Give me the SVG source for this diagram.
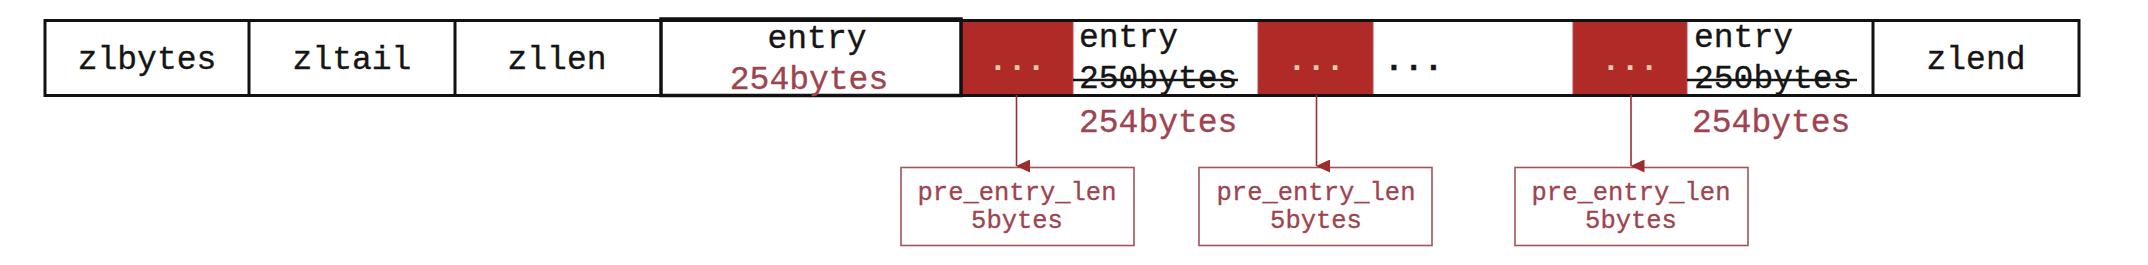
<svg xmlns="http://www.w3.org/2000/svg" width="2148" height="265" viewBox="0 0 2148 265">
<style>
.t{font-family:"Liberation Mono","DejaVu Sans Mono",monospace;font-size:33px;fill:#151515;stroke:#151515;stroke-width:0.35}
.r{fill:#9E4450;stroke:#9E4450}
.c{text-anchor:middle}
.dots{font-family:"Liberation Mono","DejaVu Sans Mono",monospace;font-size:32px;font-weight:bold;fill:#F6CBB0;text-anchor:middle}
.bd{font-weight:bold}
.red{fill:#B02A28;stroke:#BC4A48;stroke-width:1}
.pre rect{fill:#fff;stroke:#A3545B;stroke-width:1.6}
.pre text{font-family:"Liberation Mono","DejaVu Sans Mono",monospace;font-size:25.5px;fill:#9E4450;stroke:#9E4450;stroke-width:0.3;text-anchor:middle}
.strike{stroke:#151515;stroke-width:2.5}
.conn line{stroke:#9B2D30;stroke-width:1.6}
</style>
<defs>
<marker id="ah" markerWidth="13" markerHeight="14" refX="6.5" refY="13.5" orient="auto" markerUnits="userSpaceOnUse" viewBox="0 0 13 14">
<path d="M0,0 L13,0 L6.5,14 Z" fill="#9B2D30"/>
</marker>
</defs>
<rect x="0" y="0" width="2148" height="265" fill="#fff"/>

<g id="red1"><rect class="red" x="961" y="21.5" width="112" height="73"/><text class="dots" x="1017" y="70">...</text></g>
<g id="red2"><rect class="red" x="1258" y="21.5" width="115" height="73"/><text class="dots" x="1316" y="70">...</text></g>
<g id="red3"><rect class="red" x="1573" y="21.5" width="114" height="73"/><text class="dots" x="1630" y="70">...</text></g>

<g id="frame"><rect x="45" y="20.5" width="2034" height="75" fill="none" stroke="#111" stroke-width="3"/></g>
<g id="zlbytes"><text class="t c" x="147" y="69">zlbytes</text></g>
<g id="zltail"><line x1="249" y1="20" x2="249" y2="96" stroke="#111" stroke-width="3"/><text class="t c" x="352" y="69">zltail</text></g>
<g id="zllen"><line x1="455" y1="20" x2="455" y2="96" stroke="#111" stroke-width="3"/><text class="t c" x="557" y="69">zllen</text></g>
<g id="entry1"><rect x="661" y="19" width="300" height="76.5" fill="none" stroke="#111" stroke-width="3.5"/><text class="t c" x="817" y="48">entry</text><text class="t r c" x="809" y="89">254bytes</text></g>
<g id="entry2"><text class="t" x="1079" y="47">entry</text><text class="t" x="1079" y="88">250bytes</text><line class="strike" x1="1073" y1="80" x2="1238" y2="80"/><text class="t r" x="1079" y="132">254bytes</text></g>
<g id="more"><text class="t bd" x="1384" y="70">...</text></g>
<g id="entry3"><text class="t" x="1694" y="47">entry</text><text class="t" x="1694" y="88">250bytes</text><line class="strike" x1="1687" y1="80" x2="1857" y2="80"/><text class="t r" x="1692" y="132">254bytes</text></g>
<g id="zlend"><line x1="1873" y1="20" x2="1873" y2="96" stroke="#111" stroke-width="3"/><text class="t c" x="1976" y="69">zlend</text></g>

<g id="pre1" class="pre"><rect x="901" y="167.5" width="233" height="78"/><text x="1017" y="200">pre_entry_len</text><text x="1017" y="228">5bytes</text></g>
<g id="pre2" class="pre"><rect x="1199" y="167.5" width="233" height="78"/><text x="1316" y="200">pre_entry_len</text><text x="1316" y="228">5bytes</text></g>
<g id="pre3" class="pre"><rect x="1515" y="167.5" width="233" height="78"/><text x="1631" y="200">pre_entry_len</text><text x="1631" y="228">5bytes</text></g>

<g id="connectors" class="conn">
<line x1="1016.5" y1="95" x2="1016.5" y2="166" marker-end="url(#ah)"/>
<line x1="1316.5" y1="95" x2="1316.5" y2="166" marker-end="url(#ah)"/>
<line x1="1631" y1="95" x2="1631" y2="166" marker-end="url(#ah)"/>
</g>
</svg>
